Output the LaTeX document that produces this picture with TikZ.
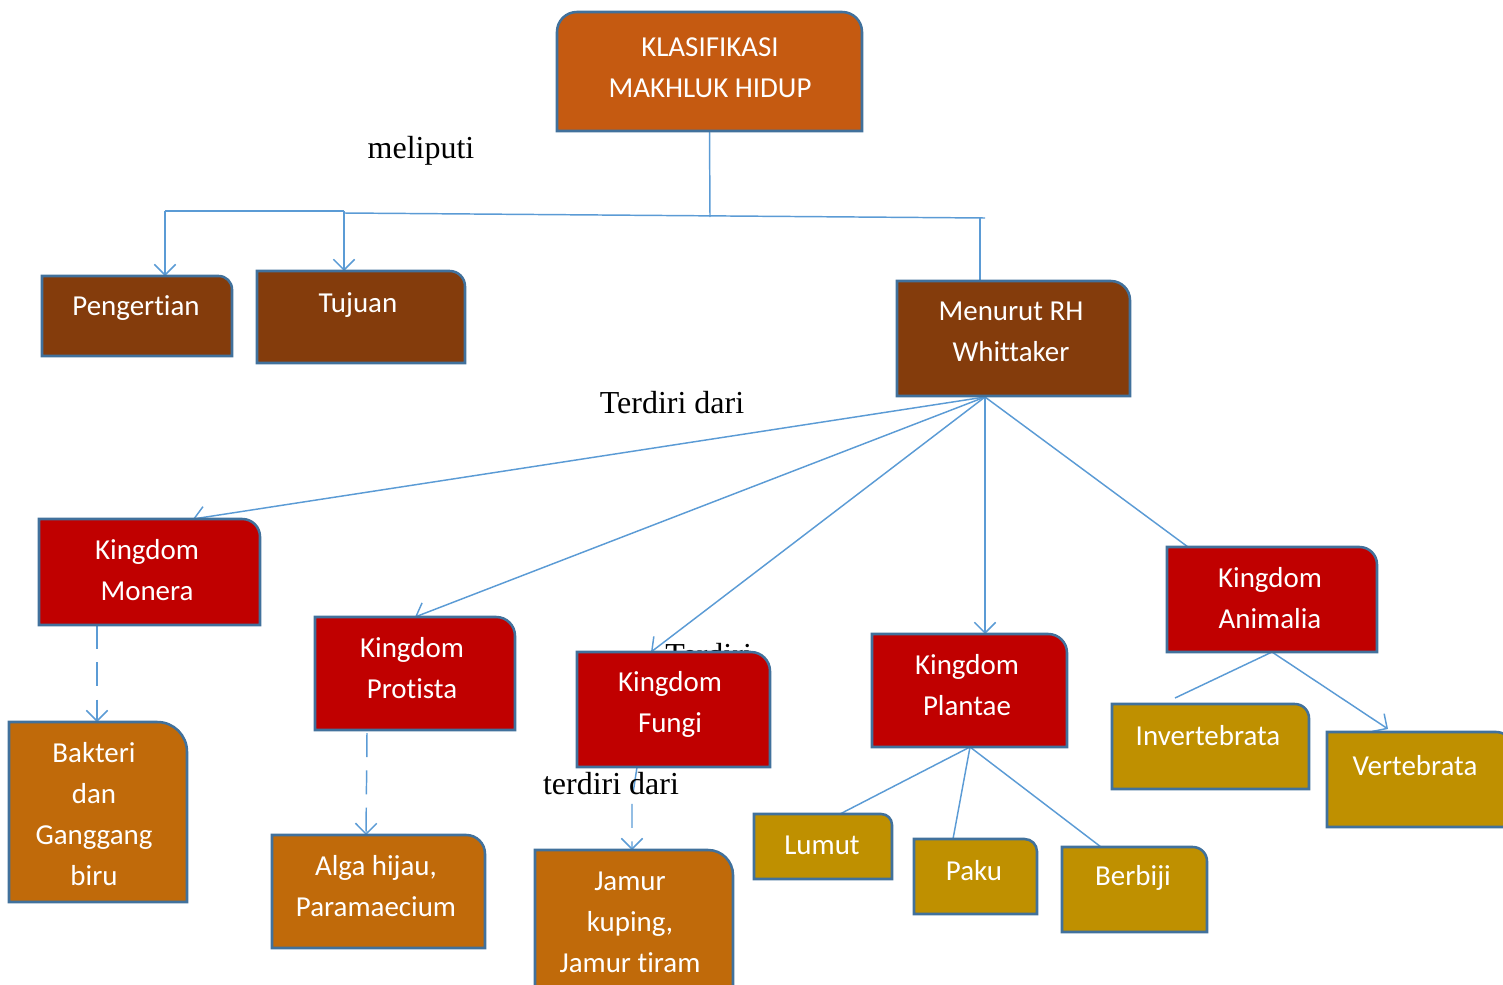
\documentclass[tikz,border=0pt]{standalone}
\usepackage{fontspec}
\newfontfamily\calfont[Ligatures=NoCommon]{Carlito}
\newfontfamily\tnrfont{Liberation Serif}
\usetikzlibrary{arrows.meta,fit}
\definecolor{titlec}{HTML}{C55A11}
\definecolor{brownc}{HTML}{843C0C}
\definecolor{kingc}{HTML}{C00000}
\definecolor{orc}{HTML}{C06A0A}
\definecolor{goldc}{HTML}{BF9000}
\definecolor{bordc}{HTML}{41719C}
\definecolor{linec}{HTML}{5B9BD5}
\newcommand\boxnode[5]{\node[fit={(#2,#3) (#4,#5)}, inner sep=0pt, outer sep=0pt] (#1) {};}
\newcommand\rtr[3]{\draw[bd, fill=#2] (#1.south west) -- (#1.north west) -- ([xshift=-#3*0.75pt]#1.north east) arc[start angle=90, end angle=0, radius=#3*0.75pt] -- (#1.south east) -- cycle;}
\begin{document}
\begin{tikzpicture}[x=0.75pt,y=-0.75pt,
  bd/.style={draw=bordc, line width=1.9pt},
  conn/.style={draw=linec, line width=1.1pt},
  arr/.style={-{Straight Barb[length=8pt,width=16pt]}},
  dsh/.style={dash pattern=on 18pt off 10pt},
  txt/.style={font=\calfont\fontsize{21.7}{30.75}\selectfont, text=white, align=center, inner sep=0pt},
  lbl/.style={font=\tnrfont\fontsize{24}{28}\selectfont, inner sep=0pt}]
\useasboundingbox (0,0) rectangle (1503,985);
\clip (0,0) rectangle (1503,985);
% box placeholders
\boxnode{title}{557}{12}{862}{131}
\boxnode{peng}{42}{276}{232}{356}
\boxnode{tuj}{257}{271}{465}{363}
\boxnode{whit}{897}{281}{1130}{396}
\boxnode{mon}{39}{519}{260}{625}
\boxnode{pro}{315}{617}{515}{730}
\boxnode{fun}{577}{652}{770}{767}
\boxnode{pla}{872}{634}{1067}{747}
\boxnode{ani}{1167}{547}{1377}{652}
\boxnode{bak}{9}{722}{187}{902}
\boxnode{alg}{272}{835}{485}{948}
\boxnode{jam}{535}{850}{733}{1010}
\boxnode{lum}{754}{814}{892}{879}
\boxnode{pak}{914}{839}{1037}{914}
\boxnode{ber}{1062}{847}{1207}{932}
\boxnode{inv}{1112}{704}{1309}{789}
\boxnode{ver}{1327}{732}{1512}{827}
% junction coordinates
\coordinate (j0) at (710,217);
\coordinate (jl) at (165,211);
\coordinate (jm) at (344,211);
\coordinate (jm2) at (344,213);
\coordinate (jr) at (985,218);
\coordinate (jr2) at (980,218);
\coordinate (wb) at (985,397);
\coordinate (monin) at (193,519);
\coordinate (funin) at (651,652);
\coordinate (aniin) at (1188,547);
\coordinate (mons) at (97,625);
\coordinate (monb) at (97,722);
\coordinate (pros) at (367,733);
\coordinate (proa) at (366,835);
\coordinate (funs) at (637,767);
\coordinate (funm) at (632,800);
\coordinate (funa) at (632,850);
\coordinate (pb) at (970,747);
\coordinate (lumin) at (840,814);
\coordinate (pakin) at (953,839);
\coordinate (berin) at (1101,847);
\coordinate (ab) at (1272,652);
\coordinate (invend) at (1175,698);
\coordinate (verin) at (1388,729);
% connectors
\draw[conn] (title.south) -- (j0);
\draw[conn] (jl) -- (jm);
\draw[conn] (jm2) -- (jr);
\draw[conn, arr] (jl) -- (peng.north -| jl);
\draw[conn, arr] (jm) -- (tuj.north -| jm);
\draw[conn] (jr2) -- (whit.north -| jr2);
\draw[conn, arr] (wb) -- (monin);
\draw[conn, arr] (wb) -- (pro.north);
\draw[conn, arr] (wb) -- (funin);
\draw[conn, arr] (wb) -- (pla.north -| wb);
\draw[conn] (wb) -- (aniin);
\draw[conn, dsh, arr] (mons) -- (monb);
\draw[conn, dsh, arr] (pros) -- (proa);
\draw[conn, dsh, arr] (funs) -- (funm) -- (funa);
\draw[conn] (pb) -- (lumin);
\draw[conn] (pb) -- (pakin);
\draw[conn] (pb) -- (berin);
\draw[conn] (ab) -- (invend);
\draw[conn, arr] (ab) -- (verin);
% partly hidden label
\node[lbl, anchor=base west] (l4) at (665,665) {Terdiri};
% box shapes
\draw[bd, fill=titlec] (title.south west) -- ([yshift=-14.9pt]title.north west) arc[start angle=180, end angle=90, radius=14.9pt] -- ([xshift=-14.9pt]title.north east) arc[start angle=90, end angle=0, radius=14.9pt] -- (title.south east) -- cycle;
\rtr{peng}{brownc}{13.3}
\rtr{tuj}{brownc}{15.3}
\rtr{whit}{brownc}{19.2}
\rtr{mon}{kingc}{17.7}
\rtr{pro}{kingc}{18.8}
\rtr{fun}{kingc}{19.2}
\rtr{pla}{kingc}{18.8}
\rtr{ani}{kingc}{17.5}
\rtr{bak}{orc}{29.7}
\rtr{alg}{orc}{18.8}
\rtr{jam}{orc}{25}
\rtr{lum}{goldc}{10.8}
\rtr{pak}{goldc}{12.5}
\rtr{ber}{goldc}{14.2}
\rtr{inv}{goldc}{14.2}
\rtr{ver}{goldc}{15.8}
% texts
\node[txt] (t-title) at (710,68) {KLASIFIKASI\\MAKHLUK HIDUP};
\node[txt] (t-peng) at (136,308) {Pengertian};
\node[txt] (t-tuj) at (358,305) {Tujuan};
\node[txt] (t-whit) at (1011,332) {Menurut RH\\Whittaker};
\node[txt] (t-mon) at (147,570) {Kingdom\\Monera};
\node[txt] (t-pro) at (412,668) {Kingdom\\Protista};
\node[txt] (t-fun) at (670,704) {Kingdom\\Fungi};
\node[txt] (t-pla) at (967,685) {Kingdom\\Plantae};
\node[txt] (t-ani) at (1270,598) {Kingdom\\Animalia};
\node[txt] (t-bak) at (94,814) {Bakteri\\dan\\Ganggang\\biru};
\node[txt] (t-alg) at (376,886) {Alga hijau,\\Paramaecium};
\node[txt] (t-jam) at (630,922) {Jamur\\kuping,\\Jamur tiram};
\node[txt] (t-lum) at (822,845) {Lumut};
\node[txt] (t-pak) at (974,871) {Paku};
\node[txt] (t-ber) at (1133,878) {Berbiji};
\node[txt] (t-inv) at (1208,736) {Invertebrata};
\node[txt] (t-ver) at (1415,766) {Vertebrata};
% labels
\node[lbl] (l1) at (421,151) {meliputi};
\node[lbl] (l2) at (672,403) {Terdiri dari};
\node[lbl] (l3) at (611,784) {terdiri dari};
\end{tikzpicture}
\end{document}
